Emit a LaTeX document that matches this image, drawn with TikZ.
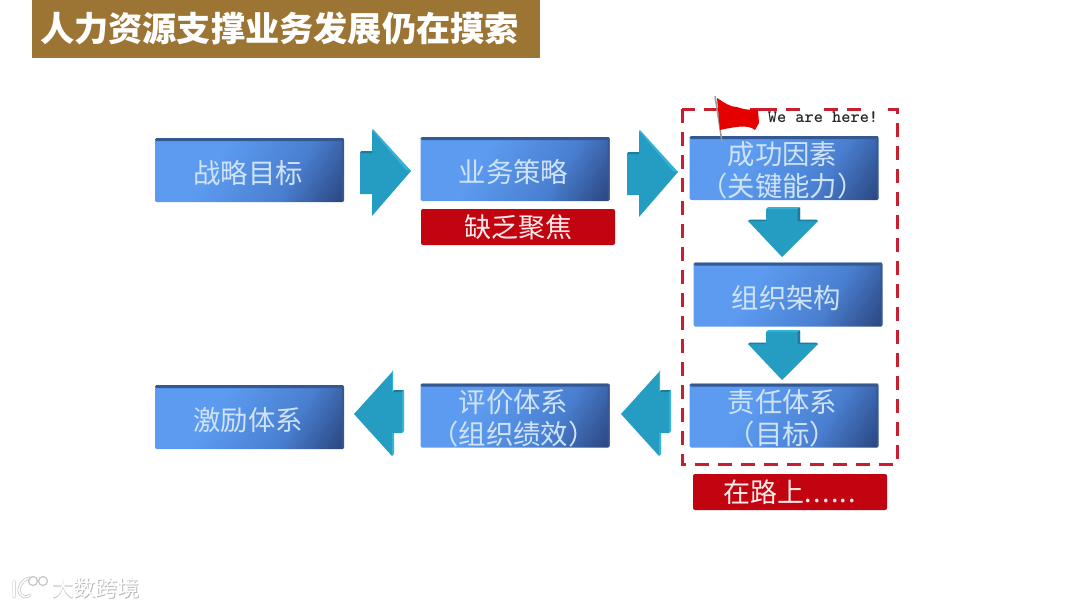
\documentclass[tikz,border=0pt]{standalone}
\usepackage{fontspec}
\setmainfont{Noto Sans CJK SC}
\definecolor{boxa}{HTML}{5C9BF0}
\definecolor{boxb}{HTML}{4A7FD0}
\definecolor{boxc}{HTML}{2A4680}
\definecolor{boxedge}{HTML}{34588F}
\definecolor{boxtxt}{HTML}{CFE3F8}
\definecolor{arrowmain}{HTML}{259CC2}
\definecolor{arrowlight}{HTML}{35B2D8}
\definecolor{arrowdark}{HTML}{1B7C9E}
\definecolor{redbox}{HTML}{C20410}
\definecolor{redline}{HTML}{C81E30}
\definecolor{titlebar}{HTML}{9C7433}
\pgfdeclarehorizontalshading{boxshade}{100bp}{color(0bp)=(boxa); color(38bp)=(boxa); color(64bp)=(boxb); color(84bp)=(boxc); color(100bp)=(boxc)}
\newcommand{\lbl}[1]{\mbox{\rule{0pt}{30pt}#1\kern3pt}}
\newcommand{\lbt}[1]{\mbox{\rule{0pt}{28.5pt}#1\kern3pt}}
\newcommand{\lbm}[1]{\mbox{#1\kern3pt}}
\tikzset{
  x=1pt,y=-1pt,
  bluebox/.style={rectangle,rounded corners=1.5pt,minimum width=189pt,minimum height=64pt,inner sep=0pt,
    shading=boxshade,shading angle=-32,text=boxtxt,align=center,font=\fontsize{27.4}{32}\selectfont,
    path picture={\fill[boxedge] (path picture bounding box.north west) rectangle ([yshift=-3pt]path picture bounding box.north east);
      \fill[boxedge] (path picture bounding box.north east) rectangle ([xshift=-2pt]path picture bounding box.south east);}},
  redlabel/.style={rectangle,rounded corners=2pt,fill=redbox,minimum width=194pt,minimum height=36pt,inner sep=0pt,
    text=white!92!red,font=\fontsize{27}{32}\selectfont},
  arrowbody/.style={fill=arrowmain,draw=none,line join=round},
}
\newcommand{\rightblock}[2]{%
  \begin{scope}[shift={(#1,#2)}]
    \fill[arrowbody] (0,-18) -- (12,-18) -- (12,-41) -- (51,0) -- (12,45) -- (12,23) -- (0,23) -- cycle;
    \fill[arrowdark] (0,-18) -- (1,-20) -- (12,-20) -- (12,-18) -- cycle;
    \fill[arrowlight] (12,-41) -- (13,-42) -- (51,0) -- (46,-1) -- cycle;
  \end{scope}}
\newcommand{\leftblock}[2]{%
  \begin{scope}[shift={(#1,#2)}]
    \fill[arrowbody] (0,0) -- (38,-42) -- (38,-22) -- (48,-22) -- (48,19) -- (38,19) -- (38,42) -- cycle;
    \fill[arrowdark] (38,-22) -- (40,-24) -- (50,-24) -- (48,-22) -- cycle;
    \fill[arrowlight] (48,-22) -- (50,-24) -- (50,17) -- (48,19) -- cycle;
    \fill[arrowlight] (38,-42) -- (39,-44) -- (39,-22) -- (38,-22) -- cycle;
    \fill[arrowlight] (38,19) -- (40,19) -- (40,40) -- (38,42) -- cycle;
  \end{scope}}
\newcommand{\downblock}[2]{%
  \begin{scope}[shift={(#1,#2)}]
    \fill[arrowbody] (0,-48) -- (34,-48) -- (34,-36) -- (52,-36) -- (16,0) -- (-18,-36) -- (0,-36) -- cycle;
    \fill[arrowlight] (0,-48) -- (2,-50) -- (32,-50) -- (34,-48) -- cycle;
    \fill[arrowdark] (34,-50) -- (34,-36) -- (31.5,-36) -- (31.5,-48) -- cycle;
    \fill[arrowdark] (-18,-36) -- (-16,-37.5) -- (0,-37.5) -- (0,-36) -- cycle;
    \fill[arrowdark] (34,-36) -- (52,-36) -- (50,-37.5) -- (34,-37.5) -- cycle;
  \end{scope}}
\begin{document}
\begin{tikzpicture}
\useasboundingbox (0,0) rectangle (1080,608);
\fill[white] (0,0) rectangle (1080,608);
% title
\node[fill=titlebar,minimum width=508pt,minimum height=58pt,inner sep=0pt,text=white,
  font=\bfseries\fontsize{34.2}{40}\selectfont] (title) at (286,29) {\mbox{人力资源支撑业务发展仍在摸索\kern13pt}};
% boxes
\node[bluebox] (goal) at (249.5,170) {\lbl{战略目标}};
\node[bluebox] (biz) at (515,169) {\lbl{业务策略}};
\node[bluebox] (csf) at (784,168) {\lbt{成功因素}\\\lbm{（关键能力）}};
\node[bluebox] (org) at (788,294.5) {\lbl{组织架构}};
\node[bluebox] (resp) at (784,415.5) {\lbt{责任体系}\\\lbm{（目标）}};
\node[bluebox] (eval) at (515,415.5) {\lbt{评价体系}\\\lbm{（组织绩效）}};
\node[bluebox] (inc) at (249.5,417) {\lbl{激励体系}};
% red labels
\node[redlabel] (lack) at (518,227) {\raisebox{-1pt}{缺乏聚焦}};
\node[redlabel] (road) at (790,492) {在路上.\kern1.2pt.\kern1.2pt.\kern1.2pt.\kern1.2pt.\kern1.2pt.};
% block arrows
\rightblock{360}{171}
\rightblock{627}{172}
\downblock{766}{257}
\downblock{766}{380}
\leftblock{621}{414}
\leftblock{354}{414}
% dashed frame
\draw[redline,line width=3pt,dash pattern=on 14pt off 9pt] (682,109) rectangle (897,464);
% flag
\draw[gray!80,line width=1.5pt] (715,96) -- (722,142);
\fill[white] (762,108) rectangle (881,127);
\draw[redline,line width=3pt] (762,109) -- (777,109) (786,109) -- (800,109) (824,109) -- (838,109) (847,109) -- (861,109);
\fill[red!90!black] (717,98) .. controls (725,103) and (730,107) .. (737,107)
  .. controls (745,110) and (752,110) .. (758,110)
  -- (759,123) -- (755,130)
  .. controls (748,124) and (734,127) .. (720,130) -- cycle;
\node[inner sep=0pt,text=black!85,font=\ttfamily\bfseries\fontsize{17.5}{20}\selectfont] (here) at (823,117) {We are here!};
% watermark
\node[inner sep=0pt,text=gray!55,font=\fontsize{22}{24}\selectfont] (wm0) at (96.8,588.8) {大数跨境};
\node[inner sep=0pt,text=white,font=\fontsize{22}{24}\selectfont] (wm) at (96,588) {大数跨境};
\draw[gray!45,line width=3pt,line cap=round] (14,581) -- (14,597) (19,590) .. controls (20,582) and (26,578) .. (30,578)
  (19,590) .. controls (20,598) and (27,598) .. (30,595);
\draw[white,line width=1.6pt,line cap=round] (14,581) -- (14,597) (19,590) .. controls (20,582) and (26,578) .. (30,578)
  (19,590) .. controls (20,598) and (27,598) .. (30,595);
\draw[gray!45,line width=1.2pt] (33,581) circle[radius=4.5pt] (43,581) circle[radius=4.5pt];
\end{tikzpicture}
\end{document}
